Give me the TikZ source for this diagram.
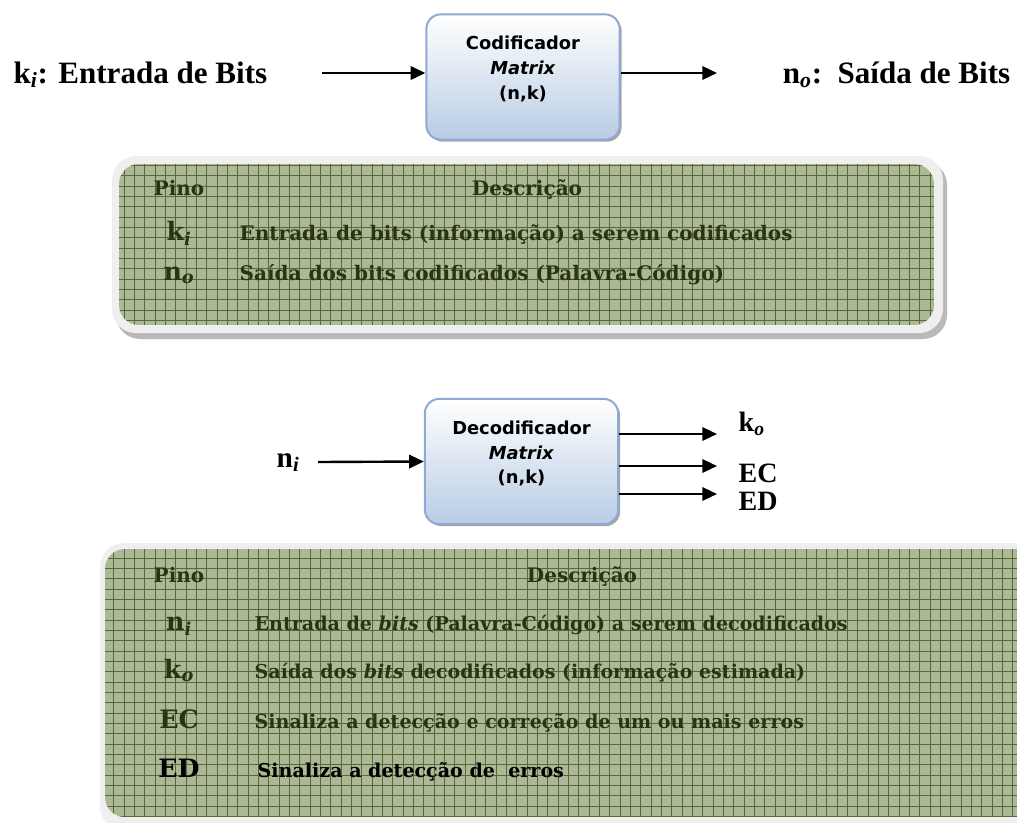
\documentclass[tikz,border=0pt]{standalone}
\usepackage{fontspec}
\newfontfamily\boxfont{DejaVu Sans}
\newfontfamily\labelfont{Liberation Serif}
\newfontfamily\tablefont{DejaVu Serif}
\usetikzlibrary{arrows.meta,shadows,patterns}
\definecolor{boxline}{RGB}{142,170,212}
\definecolor{boxfill}{RGB}{184,204,228}
\definecolor{tablefill}{RGB}{171,184,150}
\definecolor{tablegrid}{RGB}{88,106,52}
\definecolor{tabletext}{RGB}{40,52,20}
\definecolor{tableframe}{RGB}{239,239,239}
\tikzset{
  blockbox/.style  = {shape=rectangle, rounded corners=11pt,
                      draw=boxline, line width=1.5pt,
                      top color=white, bottom color=boxfill,
                      minimum width=145pt, minimum height=94pt,
                      general shadow={fill=gray!70, shadow xshift=1.5pt, shadow yshift=-1.5pt}},
  blocktext/.style = {align=center, font=\boxfont\bfseries\fontsize{13.4}{18.7}\selectfont},
  iolabel/.style   = {font=\labelfont\bfseries\fontsize{23.3}{28}\selectfont},
  outlabel/.style  = {font=\labelfont\bfseries\fontsize{21}{25}\selectfont, anchor=base west},
  pinhead/.style   = {font=\tablefont\bfseries\fontsize{15}{19}\selectfont, text=tabletext, anchor=base},
  pincell/.style   = {font=\tablefont\bfseries\fontsize{19}{23}\selectfont, text=tabletext, anchor=base},
  desccell/.style  = {font=\tablefont\bfseries\fontsize{15}{18}\selectfont, text=tabletext, anchor=base west},
  desccellb/.style = {desccell, font=\tablefont\bfseries\fontsize{14.3}{18}\selectfont},
  busarrow/.style  = {line width=1.8pt, -{Triangle[length=11pt,width=10pt]}},
  panel/.style     = {fill=tableframe, rounded corners=18pt},
  gridlines/.style = {draw=tablegrid, line width=0.6pt, step=7.75pt}
}
\begin{document}
\begin{tikzpicture}[x=0.75pt, y=-0.75pt]
  \useasboundingbox (0,0) rectangle (1017,822);

  % codificador
  \node [blockbox] (cod) at (523,77) {};
  \node [blocktext] (codtxt) at ([yshift=6pt]cod.center) {Codificador\\\textit{Matrix}\\(n,k)};
  \node [iolabel, anchor=base west] (ki) at (9,83) {k\textsubscript{\textit{i}}: Entrada de Bits};
  \node [iolabel, anchor=base east] (no) at (1015,83) {n\textsubscript{\textit{o}}:\ \ Saída de Bits};
  \coordinate (kiend) at (322,73);
  \coordinate (noend) at (717,73);
  \draw [busarrow] (kiend) -- (cod.west |- kiend);
  \draw [busarrow] (cod.east |- noend) -- (noend);

  \fill [gray!55, rounded corners=18pt] (116,161) rectangle (947,339);
  \path [panel] (112,156) rectangle (943,333);
  \begin{scope}
    \clip [rounded corners=15pt] (119,164) rectangle (934,325);
    \fill [tablefill] (119,164) rectangle (934,325);
    \fill [pattern=crosshatch dots, pattern color=tablegrid!45] (119,164) rectangle (934,325);
    \path [gridlines] (119,325) grid (934,164);
  \end{scope}
  \node [pinhead] (pino1) at (179,195) {Pino};
  \node [pinhead] (desc1) at (527,195) {Descrição};
  \node [pincell] (pki) at (179,240) {k\textsubscript{\textit{i}}};
  \node [desccell] (dki) at (235,240) {Entrada de bits (informação) a serem codificados};
  \node [pincell] (pno) at (179,280) {n\textsubscript{\textit{o}}};
  \node [desccell] (dno) at (235,280) {Saída dos bits codificados (Palavra-Código)};

  % decodificador
  \node [blockbox] (dec) at (521.5,461.5) {};
  \node [blocktext] (dectxt) at ([yshift=6pt]dec.center) {Decodificador\\\textit{Matrix}\\(n,k)};
  \node [iolabel, anchor=base west, font=\labelfont\bfseries\fontsize{22}{26}\selectfont] (ni) at (272,467) {n\textsubscript{\textit{i}}};
  \coordinate (niend) at (318,462);
  \draw [busarrow] (niend) -- (dec.west);
  \coordinate (koend) at (717,434);
  \coordinate (ecend) at (717,466);
  \coordinate (edend) at (717,494);
  \draw [busarrow] (dec.east |- koend) -- (koend);
  \draw [busarrow] (dec.east |- ecend) -- (ecend);
  \draw [busarrow] (dec.east |- edend) -- (edend);
  \node [outlabel] (ko) at (734,431) {k\textsubscript{\textit{o}}};
  \node [outlabel] (ec) at (734,482) {EC};
  \node [outlabel] (ed) at (734,510) {ED};

  \path [panel] (100,543) rectangle (1040,830);
  \begin{scope}
    \clip [rounded corners=15pt] (105,549) rectangle (1040,817);
    \fill [tablefill] (105,549) rectangle (1040,817);
    \fill [pattern=crosshatch dots, pattern color=tablegrid!45] (105,549) rectangle (1040,817);
    \path [gridlines] (105,817) grid (1040,549);
  \end{scope}
  \node [pinhead] (pino2) at (179,582) {Pino};
  \node [pinhead] (desc2) at (582,582) {Descrição};
  \node [pincell] (pni) at (179,630) {n\textsubscript{\textit{i}}};
  \node [desccellb] (dni) at (250,630) {Entrada de \textit{bits} (Palavra-Código) a serem decodificados};
  \node [pincell] (pko) at (179,678) {k\textsubscript{\textit{o}}};
  \node [desccellb] (dko) at (250,678) {Saída dos \textit{bits} decodificados (informação estimada)};
  \node [pincell] (pec) at (179,728) {EC};
  \node [desccellb] (dec) at (250,728) {Sinaliza a detecção e correção de um ou mais erros};
  \node [pincell, text=black] (ped) at (179,777) {ED};
  \node [desccellb, text=black] (ded) at (253,777) {Sinaliza a detecção de~ erros};
\end{tikzpicture}
\end{document}
